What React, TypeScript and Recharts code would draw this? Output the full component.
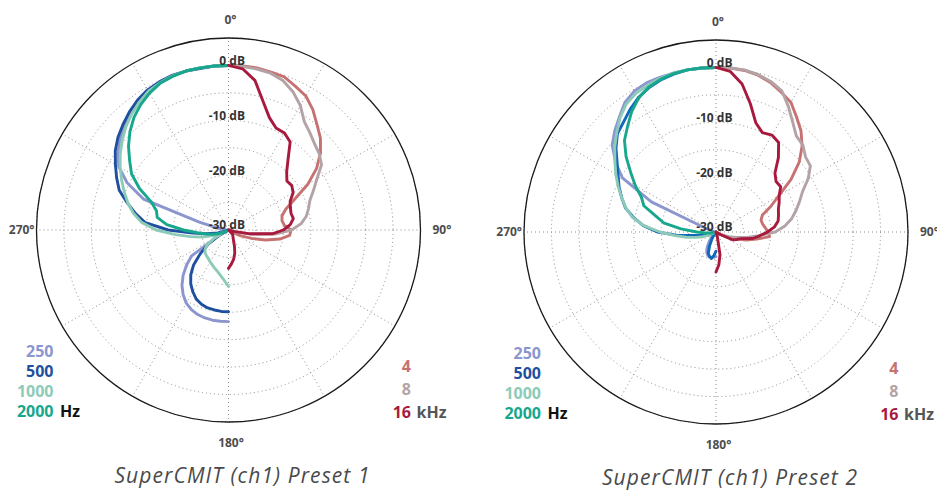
import React from "react";
import {
  RadarChart,
  Radar,
  PolarGrid,
  PolarAngleAxis,
  PolarRadiusAxis,
} from "recharts";

// angle rows, degrees clockwise from the front (0°)
const ANGLES = [
  0, 5, 10, 15, 20, 25, 30, 35, 40, 45, 50, 55, 60, 65, 70, 75, 80, 85, 90,
  95, 100, 105, 110, 115, 120, 125, 130, 135, 140, 145, 150, 155, 160, 165,
  170, 175, 180, 185, 190, 195, 200, 205, 210, 215, 220, 225, 230, 235, 240,
  245, 250, 255, 260, 265, 270, 275, 280, 285, 290, 295, 300, 305, 310, 315,
  320, 325, 330, 335, 340, 345, 350, 355, 360,
];

const LOW_FREQS = ["250", "500", "1000", "2000"];
const HIGH_FREQS = ["4", "8", "16"];

// low frequencies: left half, 180° -> 270° -> 360°
const P1_250 = [-13.3, -13.3, -13.3, -13.4, -13.6, -14.0, -14.6, -15.6, -16.8, -18.3, -20.0, -21.8, -28.0, -30, -30, -30, -30, -30, -30, -29.5, -28.0, -24.5, -13.5, -9.6, -6.9, -5.4, -4.2, -3.2, -2.3, -1.4, -0.7, -0.3, 0, 0, 0, 0, 0];
const P1_500 = [-15.1, -15.1, -15.2, -15.3, -15.6, -16.1, -17.0, -18.0, -19.3, -21.0, -23.3, -25.5, -28.0, -30, -29.5, -28.0, -26.0, -23.5, -19.0, -14.8, -12.8, -10.9, -8.8, -7.5, -6.2, -4.8, -3.7, -2.8, -1.9, -1.1, -0.5, -0.2, 0, 0, -0.1, 0, 0];
const P1_1000 = [-19.7, -20.8, -21.6, -22.2, -22.6, -23.0, -23.3, -23.6, -23.8, -24.0, -24.4, -25.2, -27.0, -29.0, -27.0, -25.0, -23.0, -20.3, -16.8, -14.1, -12.4, -11.0, -9.8, -8.5, -7.2, -5.9, -4.7, -3.5, -2.5, -1.6, -0.8, -0.4, -0.1, 0, 0, 0, 0];
const P1_2000 = [-30, -30, -30, -30, -30, -30, -30, -30, -30, -30, -30, -30, -30, -29, -28, -27, -25.8, -24.3, -21.8, -18.7, -16.8, -16.4, -15.0, -12.1, -9.6, -8.0, -6.2, -4.6, -3.2, -2.1, -1.2, -0.5, -0.2, 0, 0, 0, 0];

// high frequencies: right half, 0° -> 90° -> 180°
const P1_4K = [0, 0, 0, -0.2, -0.3, -1.1, -1.8, -3.2, -4.9, -6.3, -8.1, -10.4, -13.3, -16.7, -18.9, -19.9, -20.1, -19.8, -18.6, -18.8, -20.5, -23.0, -25.5, -27.5, -29.0, -30, -30, -30, -30, -30, -30, -30, -30, -30, -30, -30, -30];
const P1_8K = [0, -0.1, -0.2, -0.4, -1.0, -2.2, -3.8, -5.9, -6.9, -7.8, -8.4, -9.3, -11.4, -12.9, -14.2, -14.9, -15.6, -16.7, -18.5, -21.5, -25.5, -28.5, -30, -30, -30, -30, -30, -30, -30, -30, -30, -30, -30, -30, -30, -30, -30];
const P1_16K = [0, -0.5, -2.3, -5.7, -8.2, -9.5, -9.6, -10.4, -13.1, -15.0, -16.1, -15.9, -16.4, -17.6, -18.0, -18.2, -18.0, -18.7, -20.0, -22.0, -26.0, -29.0, -30, -30, -30, -30, -30, -29.0, -28.8, -28.6, -28.3, -27.8, -26.8, -25.6, -24.6, -23.8, -23.0];

const P2_250 = [-25.5, -25.4, -25.3, -25.3, -25.5, -26.0, -26.8, -27.8, -28.6, -29.5, -30, -30, -30, -30, -30, -30, -30, -30, -30, -30, -30, -29.5, -28.0, -17.0, -10.3, -7.6, -5.3, -3.9, -2.6, -1.1, -0.3, 0, 0, 0, 0, 0, 0];
const P2_500 = [-26.5, -25.7, -25.1, -25.4, -25.9, -27.2, -28.5, -29.3, -30, -30, -30, -30, -30, -29.0, -28.4, -27.8, -26.5, -23.0, -19.3, -16.7, -14.7, -12.9, -11.7, -10.5, -9.4, -8.0, -6.2, -4.6, -3.8, -2.7, -1.7, -1.0, -0.5, -0.2, 0, 0, 0];
const P2_1000 = [-30, -30, -30, -30, -30, -30, -30, -30, -30, -30, -30, -30, -30, -28.8, -27.5, -26.2, -24.5, -22.5, -19.8, -16.8, -14.5, -13.0, -11.7, -10.3, -8.9, -7.5, -5.9, -4.4, -2.8, -1.5, -0.8, -0.5, -0.2, 0, 0, 0, 0];
const P2_2000 = [-30, -30, -30, -30, -30, -30, -30, -30, -30, -30, -30, -30, -30, -30, -30, -30, -29, -28, -26.5, -23.6, -20.3, -18.6, -16.0, -15.0, -13.0, -11.0, -8.6, -6.4, -4.9, -3.2, -1.8, -0.9, -0.4, -0.1, 0, 0, 0];

const P2_4K = [0, 0, -0.1, -0.4, -1.0, -1.9, -2.7, -4.4, -5.9, -7.8, -10.2, -13.3, -16.8, -19.0, -21.0, -21.5, -21.4, -21.0, -20.5, -20.2, -22.5, -24.3, -26.5, -28.3, -29.5, -30, -30, -30, -30, -30, -30, -30, -30, -30, -30, -30, -30];
const P2_8K = [0, 0, 0, -0.3, -0.8, -1.6, -3.6, -5.6, -7.2, -7.6, -8.7, -9.0, -10.6, -12.6, -13.8, -14.9, -16.0, -17.4, -19.2, -22.2, -24.2, -26.1, -27.5, -28.5, -29.2, -29.8, -30, -30, -30, -30, -30, -30, -30, -30, -30, -30, -30];
const P2_16K = [0, -0.6, -2.6, -5.8, -8.8, -10.0, -9.6, -10.1, -12.3, -14.8, -15.7, -15.6, -16.7, -17.3, -17.9, -18.2, -18.5, -19.3, -20.6, -22.0, -23.2, -25.3, -26.0, -26.6, -29.0, -30, -30, -30, -30, -30, -30, -30, -30, -29.0, -25.8, -24.0, -22.7];

const DB_TICKS = [-30, -25, -20, -15, -10, -5, 0, 5];
const DB_LABELS = [-30, -20, -10, 0];
const ANGLE_TICKS = [0, 90, 180, 270];
const ANGLE_LABELS = ["0°", "90°", "180°", "270°"];
const SPOKES = [0, 30, 60, 90, 120, 150, 180, 210, 240, 270, 300, 330];

const LOW_COLORS = ["#8b96cf", "#1f4f9f", "#8dcbb8", "#17a78d"];
const HIGH_COLORS = ["#c77272", "#b3a3a5", "#a8193d"];
const FONT = "'Open Sans', 'Noto Sans', sans-serif";

function buildRows(low: number[][], high: number[][]) {
  return ANGLES.map((a, i) => {
    const row: Record<string, number | null> = { angle: a };
    LOW_FREQS.forEach((f, s) => {
      row["f" + f] = i >= 36 ? low[s][i - 36] : null;
    });
    HIGH_FREQS.forEach((f, s) => {
      row["k" + f] = i <= 36 ? high[s][i] : null;
    });
    return row;
  });
}

const ROWS_1 = buildRows([P1_250, P1_500, P1_1000, P1_2000], [P1_4K, P1_8K, P1_16K]);
const ROWS_2 = buildRows([P2_250, P2_500, P2_1000, P2_2000], [P2_4K, P2_8K, P2_16K]);

// open polyline through the radar's own points, broken where a row has no value
function openLine(props: any) {
  const pts = props.points || [];
  let d = "";
  let pen = false;
  pts.forEach((p: any) => {
    const ok = p.value !== null && p.value !== undefined && Number.isFinite(p.x) && Number.isFinite(p.y);
    if (!ok) {
      pen = false;
      return;
    }
    d += (pen ? "L" : "M") + p.x.toFixed(2) + "," + p.y.toFixed(2);
    pen = true;
  });
  return (
    <path d={d} fill="none" stroke={props.stroke} strokeWidth={props.strokeWidth} strokeLinejoin="round" strokeLinecap="round" />
  );
}

function angleTick(props: any) {
  const { x, y, payload } = props;
  const v = payload.value;
  const label = ANGLE_LABELS[ANGLE_TICKS.indexOf(v)];
  let dx = 0;
  let dy = 4;
  let anchor = "middle";
  if (v === 0) {
    dx = 2;
    dy = -2;
  } else if (v === 180) {
    dx = 2.5;
    dy = 12.5;
  } else if (v === 90) {
    anchor = "start";
  } else if (v === 270) {
    anchor = "end";
    dx = 10;
  }
  return (
    <text x={x + dx} y={y + dy} textAnchor={anchor} fontFamily={FONT} fontSize={12} fontWeight={700} fill="#4d4d4d">
      {label}
    </text>
  );
}

function dbTick(props: any) {
  const { x, y, payload } = props;
  const v = payload.value;
  if (!DB_LABELS.includes(v)) return <g />;
  return (
    <text x={x + 16.5} y={y - (v === -30 ? 1.5 : 0)} textAnchor="end" fontFamily={FONT} fontSize={12} fontWeight={700} fill="#333">
      {`${v} dB`}
    </text>
  );
}

function Plot({ rows, left, width, cx, cy, blue, title }: any) {
  const lineColors = [LOW_COLORS[0], blue, LOW_COLORS[2], LOW_COLORS[3]];
  return (
    <div style={{ position: "absolute", left, top: 0, width, height: 490 }}>
      <RadarChart
        width={width}
        height={490}
        data={rows}
        cx={cx}
        cy={cy}
        outerRadius={192}
        startAngle={90}
        endAngle={-270}
        margin={{ top: 0, right: 0, bottom: 0, left: 0 }}
      >
        <PolarGrid gridType="circle" polarAngles={SPOKES} stroke="#8c8c8c" strokeDasharray="1 3" />
        <PolarAngleAxis
          dataKey="angle"
          type="number"
          domain={[0, 360]}
          ticks={ANGLE_TICKS}
          tickLine={false}
          tickSize={12}
          axisLineType="circle"
          axisLine={{ stroke: "#1a1a1a", strokeWidth: 1.3 }}
          tick={angleTick}
        />
        <PolarRadiusAxis angle={90} type="number" domain={[-30, 5]} ticks={DB_TICKS} axisLine={false} tick={dbTick} />
        {LOW_FREQS.map((f, s) => (
          <Radar
            key={"f" + f}
            dataKey={"f" + f}
            stroke={lineColors[s]}
            strokeWidth={2.9}
            fill="none"
            fillOpacity={0}
            dot={false}
            shape={openLine}
            isAnimationActive={false}
          />
        ))}
        {HIGH_FREQS.map((f, s) => (
          <Radar
            key={"k" + f}
            dataKey={"k" + f}
            stroke={HIGH_COLORS[s]}
            strokeWidth={2.9}
            fill="none"
            fillOpacity={0}
            dot={false}
            shape={openLine}
            isAnimationActive={false}
          />
        ))}
      </RadarChart>
      <svg width={width} height={490} style={{ position: "absolute", left: 0, top: 0, pointerEvents: "none" }}>
        {LOW_FREQS.map((f, s) => (
          <text key={f} x={cx - 175} y={cy + 126.7 + 20 * s} textAnchor="end" fontFamily={FONT} fontSize={16} fontWeight={700} fill={LOW_COLORS[s]}>
            {f}
          </text>
        ))}
        <text x={cx - 168.5} y={cy + 186.7} fontFamily={FONT} fontSize={16} fontWeight={700} fill="#111">
          Hz
        </text>
        {HIGH_FREQS.map((f, s) => (
          <text key={f} x={cx + 182.5} y={cy + 142 + 23 * s} textAnchor="end" fontFamily={FONT} fontSize={16} fontWeight={700} fill={HIGH_COLORS[s]}>
            {f}
          </text>
        ))}
        <text x={cx + 188} y={cy + 188} fontFamily={FONT} fontSize={16} fontWeight={700} fill="#555">
          kHz
        </text>
        <text x={cx + 14} y={cy + 252.5} textAnchor="middle" fontFamily={FONT} fontSize={21} fontStyle="italic" letterSpacing={1.1} fill="#4a4a4a">
          {title}
        </text>
      </svg>
    </div>
  );
}

export default function App() {
  return (
    <div style={{ position: "absolute", left: 0, top: 0, width: 937, height: 490, overflow: "hidden", background: "#fff" }}>
      <Plot rows={ROWS_1} left={0} width={468} cx={228.5} cy={230} blue="#1f4f9f" title="SuperCMIT (ch1) Preset 1" />
      <Plot rows={ROWS_2} left={468} width={469} cx={248} cy={232} blue="#1068b8" title="SuperCMIT (ch1) Preset 2" />
    </div>
  );
}
